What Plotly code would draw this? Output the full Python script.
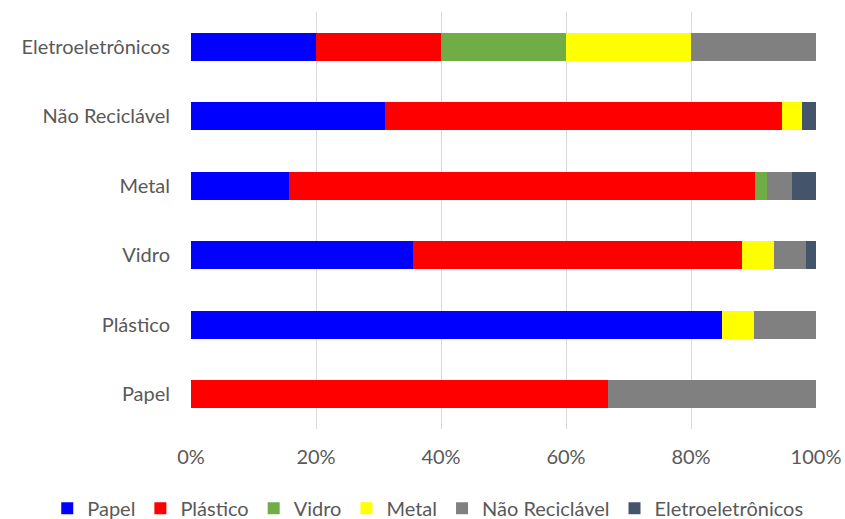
import plotly.graph_objects as go

categories = ["Papel", "Plástico", "Vidro", "Metal", "Não Reciclável", "Eletroeletrônicos"]
series_names = ["Papel", "Plástico", "Vidro", "Metal", "Não Reciclável", "Eletroeletrônicos"]
colors = ["#0000FF", "#FF0000", "#70AD47", "#FFFF00", "#808080", "#44546A"]

papel = [0, 85.0, 35.5, 15.7, 31.0, 20]
plastico = [66.7, 0, 52.7, 74.5, 63.5, 20]
vidro = [0, 0, 0, 2.0, 0, 20]
metal = [0, 5.0, 5.1, 0, 3.3, 20]
nao_reciclavel = [33.3, 10.0, 5.1, 3.9, 0, 20]
eletro = [0, 0, 1.6, 3.9, 2.2, 0]

values = [papel, plastico, vidro, metal, nao_reciclavel, eletro]

font_family = "Lato, Open Sans, sans-serif"

fig = go.Figure()
for name, vals, col in zip(series_names, values, colors):
    fig.add_trace(go.Bar(
        y=categories, x=[v / 100 for v in vals], name=name, orientation="h",
        marker=dict(color=col, line=dict(width=0)),
    ))

fig.update_layout(
    barmode="stack",
    bargap=0.6,
    width=845, height=519,
    margin=dict(l=191, r=29, t=12, b=90, autoexpand=False),
    plot_bgcolor="white", paper_bgcolor="white",
    font=dict(family=font_family, size=20, color="#595959"),
    xaxis=dict(range=[0, 1], tickformat=".0%", dtick=0.2, showgrid=True,
               gridcolor="#d9d9d9", gridwidth=1, zeroline=False, automargin=False,
               ticks="", ticklabelstandoff=14, tickfont=dict(size=20)),
    yaxis=dict(showgrid=False, ticks="", ticklabelstandoff=20, automargin=False,
               tickfont=dict(size=20)),
    legend=dict(orientation="h", x=-0.23, xanchor="left",
                y=-0.19, yanchor="middle",
                font=dict(size=20), traceorder="normal", itemwidth=30,
                tracegroupgap=0),
    showlegend=True,
)

fig.write_html("out.html")
